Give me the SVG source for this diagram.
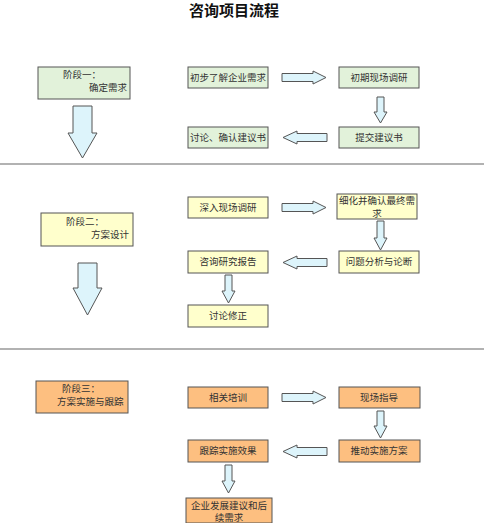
<svg xmlns="http://www.w3.org/2000/svg" width="484" height="523" viewBox="0 0 484 523">
<style>
.t{font-family:"Noto Sans CJK SC","Liberation Sans",sans-serif;font-size:9.5px;fill:#333}
.ttl{font-family:"Noto Sans CJK SC","Liberation Serif",serif;font-size:15px;font-weight:bold;fill:#111}
.g{fill:#e2f2da;stroke:#555;stroke-width:1}
.y{fill:#ffffcc;stroke:#555;stroke-width:1}
.o{fill:#fdbf80;stroke:#555;stroke-width:1}
.a{fill:#ddf4fb;stroke:#555;stroke-width:1}
.sep{stroke:#666;stroke-width:1.2}
</style>
<rect width="484" height="523" fill="#fff"/>
<text class="ttl" x="234" y="16" text-anchor="middle">咨询项目流程</text>
<g id="separators">
<line class="sep" x1="0" y1="164" x2="484" y2="164"/>
<line class="sep" x1="0" y1="349" x2="484" y2="349"/>
</g>
<g id="stage1"><rect class="g" x="38" y="67" width="92" height="32"/><text class="t" x="63" y="78">阶段一：</text><text class="t" x="89" y="91">确定需求</text></g>
<g id="stage2"><rect class="y" x="41" y="213" width="92" height="33"/><text class="t" x="66" y="225">阶段二：</text><text class="t" x="91" y="238">方案设计</text></g>
<g id="stage3"><rect class="o" x="36" y="381" width="92" height="32"/><text class="t" x="62" y="392">阶段三：</text><text class="t" x="57" y="405">方案实施与跟踪</text></g>

<g id="n1"><rect class="g" x="188" y="67" width="80" height="21"/><text class="t" x="228" y="81" text-anchor="middle">初步了解企业需求</text></g>
<g id="n2"><rect class="g" x="339" y="67" width="80" height="21"/><text class="t" x="379" y="81" text-anchor="middle">初期现场调研</text></g>
<g id="n3"><rect class="g" x="339" y="127" width="80" height="21"/><text class="t" x="379" y="141" text-anchor="middle">提交建议书</text></g>
<g id="n4"><rect class="g" x="188" y="127" width="80" height="21"/><text class="t" x="228" y="141" text-anchor="middle">讨论、确认建议书</text></g>

<g id="n5"><rect class="y" x="188" y="197" width="80" height="21"/><text class="t" x="228" y="211" text-anchor="middle">深入现场调研</text></g>
<g id="n6"><rect class="y" x="337" y="194" width="80" height="25"/><text class="t" x="377" y="204" text-anchor="middle">细化并确认最终需</text><text class="t" x="377" y="216.5" text-anchor="middle">求</text></g>
<g id="n7"><rect class="y" x="339" y="251" width="80" height="22"/><text class="t" x="379" y="265" text-anchor="middle">问题分析与论断</text></g>
<g id="n8"><rect class="y" x="188" y="251" width="80" height="22"/><text class="t" x="228" y="265" text-anchor="middle">咨询研究报告</text></g>
<g id="n9"><rect class="y" x="188" y="305" width="80" height="22"/><text class="t" x="228" y="319" text-anchor="middle">讨论修正</text></g>

<g id="n10"><rect class="o" x="188" y="387" width="80" height="21"/><text class="t" x="228" y="401" text-anchor="middle">相关培训</text></g>
<g id="n11"><rect class="o" x="339" y="387" width="81" height="21"/><text class="t" x="379" y="401" text-anchor="middle">现场指导</text></g>
<g id="n12"><rect class="o" x="339" y="440" width="81" height="22"/><text class="t" x="379" y="454" text-anchor="middle">推动实施方案</text></g>
<g id="n13"><rect class="o" x="188" y="440" width="80" height="22"/><text class="t" x="228" y="454" text-anchor="middle">跟踪实施效果</text></g>
<g id="n14"><rect class="o" x="186" y="498" width="86" height="25"/><text class="t" x="229" y="508.5" text-anchor="middle">企业发展建议和后</text><text class="t" x="229" y="521" text-anchor="middle">续需求</text></g>

<g id="connectors">
<polygon class="a" points="73,106 92,106 92,133 97,133 82.5,158 68,133 73,133"/>
<polygon class="a" points="78,263 97,263 97,288 102,288 87.5,315 73,288 78,288"/>

<polygon class="a" points="282,73.5 313,73.5 313,71 326,77.5 313,84 313,81.5 282,81.5"/>
<polygon class="a" points="377,97 384,97 384,112 387,112 380.5,123 374,112 377,112"/>
<polygon class="a" points="327,133.5 297,133.5 297,131 283,137.5 297,144 297,141.5 327,141.5"/>

<polygon class="a" points="282,203.5 313,203.5 313,201 326,207.5 313,214 313,211.5 282,211.5"/>
<polygon class="a" points="377,221 384,221 384,238 387,238 380.5,250 374,238 377,238"/>
<polygon class="a" points="327,258.5 297,258.5 297,256 283,262.5 297,269 297,266.5 327,266.5"/>
<polygon class="a" points="225,275 232,275 232,291 235,291 228.5,303 222,291 225,291"/>

<polygon class="a" points="282,393.5 313,393.5 313,391 326,397.5 313,404 313,401.5 282,401.5"/>
<polygon class="a" points="377,411 384,411 384,426 387,426 380.5,438 374,426 377,426"/>
<polygon class="a" points="327,447.5 297,447.5 297,445 283,451.5 297,458 297,455.5 327,455.5"/>
<polygon class="a" points="225,465 232,465 232,481 235,481 228.5,493 222,481 225,481"/>
</g>
</svg>
